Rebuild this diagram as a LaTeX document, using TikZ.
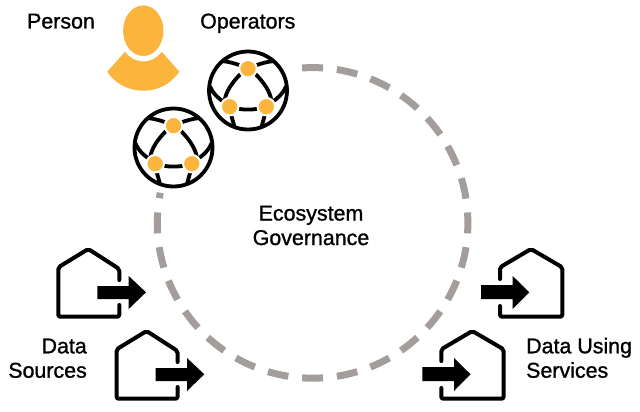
\documentclass[tikz,border=0pt]{standalone}
\usepackage{fontspec}
\newfontfamily\lab[AutoFakeBold=1.1,BoldFont={Liberation Sans},BoldFeatures={FakeBold=1.1}]{Liberation Sans}
\definecolor{amber}{HTML}{FBB53C}
\definecolor{ringgrey}{HTML}{A39E9B}
\tikzset{
  x=1pt,y=-1pt,
  txt/.style={font=\lab\bfseries\fontsize{21.4}{24}\selectfont,text=black,inner sep=0pt},
  ringseg/.style={draw=ringgrey,line width=7pt},
  ln/.style={draw=black,line width=3.8pt},
  hub/.style={circle,fill=amber,draw=white,line width=2pt,minimum size=17.5pt,inner sep=0pt},
  arr/.style={fill=black},
  hs/.style={draw=black,line width=4pt,line join=round,line cap=round,rounded corners=2pt},
  pics/globe/.style={code={
    \foreach \s in {1,-1}{
      \draw[ln] (\s*6,-24.3) .. controls (\s*12,-27) and (\s*20,-29) .. (\s*26.5,-29.5);
      \draw[ln] (\s*38,-4) .. controls (\s*35,3) and (\s*30,8) .. (\s*23,12);
      \draw[ln] (\s*17,24) -- (\s*13.3,37);
      \draw[ln] (\s*23.3,9.7) .. controls (\s*22,1) and (\s*16,-8) .. (\s*7,-17);
    }
    \draw[ln] (-10,18.3) .. controls (-4,19.3) and (4,19.3) .. (10,18.3);
    \draw[ln] (0,0) circle (39);
    \node[hub] at (0,-21.8) {};
    \node[hub] at (-18.3,16.2) {};
    \node[hub] at (18.3,16.2) {};
  }},
  pics/outhouse/.style={code={
    \draw[hs] (61,31) -- (61,20) -- (30,0) -- (0,18.3) -- (0,67.7) -- (61,67.7) -- (61,56);
    \fill[arr] (39,37) -- (70.4,37) -- (70.4,27) -- (87.7,43.3) -- (70.4,60) -- (70.4,50) -- (39,50) -- cycle;
  }},
  pics/inhouse/.style={code={
    \draw[hs] (0,30) -- (0,18.3) -- (31,0) -- (62.3,18.3) -- (62.3,67.7) -- (0,67.7) -- (0,57);
    \fill[arr] (-19,36) -- (12.7,36) -- (12.7,27) -- (29.3,43.3) -- (12.7,60) -- (12.7,50) -- (-19,50) -- cycle;
  }}
}
\begin{document}
\begin{tikzpicture}
\useasboundingbox (0,0) rectangle (640,412);
\coordinate (ctr) at (312.6,222.9);
\foreach \i in {0,...,21}{
  \pgfmathsetmacro{\a}{-90+12.857*\i-3.87}
  \pgfmathsetmacro{\b}{-90+12.857*\i+3.87}
  \draw[ringseg] ([shift={(ctr)}]\a:155.3) arc[start angle=\a,end angle=\b,radius=155.3];
}
\draw[ringseg] ([shift={(ctr)}]189.15:155.3) arc[start angle=189.15,end angle=191.2,radius=155.3];
% person
\fill[amber] (143.3,30.7) ellipse[x radius=20.2,y radius=25.3];
\fill[amber] (107.3,71.7) -- (125,51.7) .. controls (130,58.5) and (137,61.5) .. (143.3,61.5) .. controls (150,61.5) and (157,58.5) .. (161.7,51.7) -- (179.3,71.7) .. controls (170,85) and (157,90.7) .. (143.3,90.7) .. controls (130,90.7) and (116,85) .. (107.3,71.7) -- cycle;
\pic at (248,90.5) {globe};
\pic at (173.5,147.5) {globe};
\pic at (58.3,249) {outhouse};
\pic at (116.6,331) {outhouse};
\pic at (500,249) {inhouse};
\pic at (441.3,331) {inhouse};
\node[txt,anchor=base] (person) at (61,28.5) {Person};
\node[txt,anchor=base west] (oper) at (200,28.5) {Operators};
\node[txt,anchor=base] (eco) at (311,220.5) {Ecosystem};
\node[txt,anchor=base] (gov) at (311,245) {Governance};
\node[txt,anchor=base east] (d1) at (87,353.3) {Data};
\node[txt,anchor=base east] (d2) at (87,377.7) {Sources};
\node[txt,anchor=base west] (u1) at (526,353.3) {Data Using};
\node[txt,anchor=base west] (u2) at (526,377.7) {Services};
\end{tikzpicture}
\end{document}
